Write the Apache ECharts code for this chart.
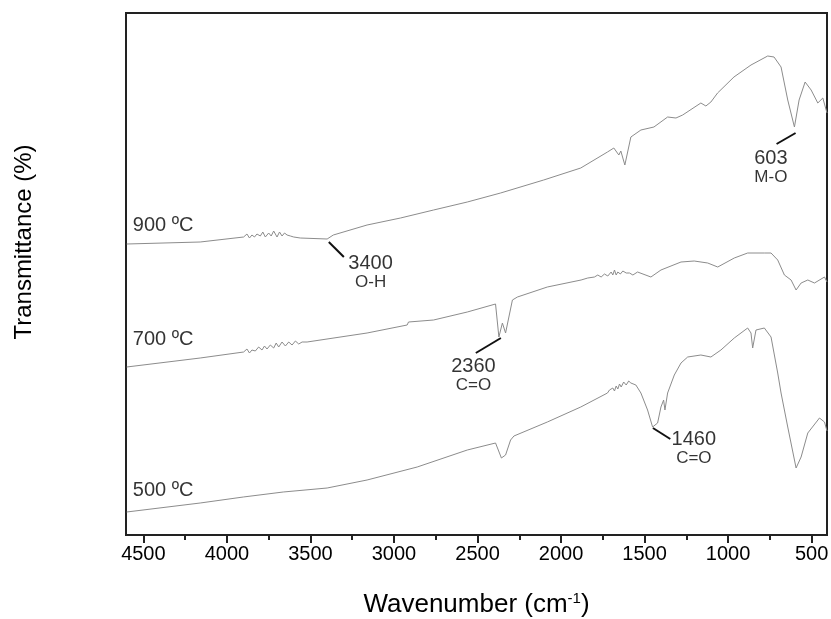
<!DOCTYPE html>
<html>
<head>
<meta charset="utf-8">
<script src="https://cdn.jsdelivr.net/npm/echarts@6/dist/echarts.min.js"></script>
<style>
  html, body { margin: 0; padding: 0; background: #fff; }
  #chart { width: 831px; height: 619px; }
</style>
</head>
<body>
<div id="chart"></div>
<script>
  /* wavenumber (cm-1) and relative transmittance for each calcination temperature */
  var wn900 = [4600, 4160, 3900, 3880, 3865, 3850, 3835, 3820, 3800, 3785, 3770, 3750, 3735, 3720, 3700, 3685, 3670, 3655, 3640, 3620, 3600, 3561, 3400, 3363, 3161, 2961, 2763, 2561, 2362, 2104, 1882, 1722, 1684, 1654, 1642, 1618, 1582, 1522, 1444, 1362, 1312, 1272, 1163, 1133, 1103, 1063, 965, 863, 763, 725, 683, 643, 603, 575, 539, 503, 463, 433, 408];
  var t900 = [291, 293, 298, 301, 297, 300, 298, 301, 299, 303, 298, 302, 299, 304, 298, 303, 299, 302, 300, 299, 298, 297, 296, 300, 310, 317, 325, 333, 342, 355, 367, 383, 387, 380, 384, 370, 398, 405, 408, 418, 417, 420, 432, 429, 433, 442, 458, 470, 479, 478, 468, 435, 408, 435, 453, 445, 432, 437, 422];

  var wn700 = [4600, 4160, 3900, 3880, 3865, 3850, 3830, 3810, 3790, 3775, 3760, 3740, 3720, 3705, 3690, 3670, 3650, 3630, 3610, 3590, 3570, 3550, 3520, 3161, 2921, 2913, 2763, 2561, 2392, 2372, 2351, 2332, 2291, 2261, 2082, 1880, 1840, 1800, 1780, 1760, 1740, 1720, 1700, 1690, 1680, 1670, 1660, 1645, 1630, 1610, 1590, 1570, 1542, 1462, 1402, 1282, 1203, 1122, 1062, 963, 883, 783, 743, 703, 663, 623, 593, 563, 523, 483, 423, 408];
  var t700 = [168, 177, 183, 186, 182, 185, 184, 188, 185, 189, 186, 190, 187, 192, 188, 193, 189, 193, 190, 194, 191, 193, 193, 202, 210, 213, 215, 223, 231, 198, 212, 202, 235, 238, 248, 255, 257, 258, 260, 258, 261, 259, 263, 260, 265, 260, 263, 261, 264, 262, 262, 260, 263, 258, 265, 273, 274, 272, 268, 277, 282, 282, 282, 275, 260, 255, 245, 252, 255, 252, 258, 253];

  var wn500 = [4600, 4160, 3902, 3663, 3400, 3161, 2861, 2561, 2392, 2357, 2332, 2302, 2282, 2082, 1882, 1722, 1710, 1700, 1690, 1680, 1670, 1660, 1650, 1640, 1625, 1610, 1595, 1582, 1552, 1522, 1482, 1452, 1422, 1402, 1386, 1378, 1362, 1322, 1282, 1242, 1163, 1103, 1043, 963, 883, 863, 853, 833, 783, 743, 703, 683, 643, 593, 563, 523, 453, 423, 408];
  var t500 = [23, 32, 38, 43, 47, 55, 68, 85, 92, 77, 80, 95, 99, 113, 128, 142, 145, 143, 147, 144, 149, 146, 151, 148, 153, 150, 154, 152, 150, 142, 125, 108, 112, 128, 135, 125, 142, 160, 172, 178, 180, 178, 185, 197, 207, 202, 187, 205, 207, 198, 162, 142, 108, 67, 78, 102, 117, 113, 104];

  /* curve names, placed at the left end */
  var curveNames = ['900 ºC', '700 ºC', '500 ºC'];
  var nameAt = [[4563, 310], [4563, 196], [4563, 45]];

  /* band assignments: peak, group, leader line start/end, text anchor */
  var bandPeak = ['3400', '2360', '603', '1460'];
  var bandGroup = ['O-H', 'C=O', 'M-O', 'C=O'];
  var bandLineFrom = [[3390, 293], [2360, 197], [596, 402], [1450, 107]];
  var bandLineTo = [[3300, 278], [2510, 182], [710, 391], [1346, 96]];
  var bandText = [[3140, 262], [2524, 159], [744, 367], [1205, 86]];

  var xTicks = [500, 1000, 1500, 2000, 2500, 3000, 3500, 4000, 4500];
  var xMinorTicks = [750, 1250, 1750, 2250, 2750, 3250, 3750, 4250];

  function pairs(xs, ys) {
    return xs.map(function (x, i) { return [x, ys[i]]; });
  }

  var font = '"Liberation Sans", Arial, sans-serif';
  var lineColor = '#8c8c8c';
  var ink = '#000';

  function spectrum(name, xs, ys) {
    return {
      name: name,
      type: 'line',
      data: pairs(xs, ys),
      showSymbol: false,
      silent: true,
      lineStyle: { color: lineColor, width: 1 },
      z: 2
    };
  }

  var chart = echarts.init(document.getElementById('chart'));
  chart.setOption({
    animation: false,
    backgroundColor: '#fff',
    textStyle: { fontFamily: font },
    grid: {
      left: 126, right: 4, top: 13, bottom: 84,
      containLabel: false, outerBoundsMode: 'none',
      show: true, borderColor: '#222', borderWidth: 2
    },
    xAxis: [
      {
        type: 'value', inverse: true, min: 408, max: 4604,
        name: '{a|Wavenumber (cm}{s|-1}{a|)}',
        nameLocation: 'middle', nameGap: 56,
        nameTextStyle: {
          rich: {
            a: { fontSize: 26, color: ink, fontFamily: font },
            s: { fontSize: 15, color: ink, fontFamily: font, verticalAlign: 'top', padding: [0, 0, 12, 0] }
          }
        },
        axisLine: { show: true, lineStyle: { color: '#222', width: 2 } },
        axisTick: { show: true, inside: false, length: 8, lineStyle: { color: '#222', width: 2 }, customValues: xTicks },
        axisLabel: {
          fontSize: 20, color: ink, margin: 9, customValues: xTicks,
          formatter: function (v) { return String(v); }
        },
        splitLine: { show: false }
      },
      {
        type: 'value', inverse: true, min: 408, max: 4604, position: 'bottom',
        axisLine: { show: false },
        axisTick: { show: true, inside: false, length: 5, lineStyle: { color: '#222', width: 2 }, customValues: xMinorTicks },
        axisLabel: { show: false, customValues: xMinorTicks },
        splitLine: { show: false }
      }
    ],
    yAxis: {
      type: 'value', min: 0, max: 522,
      axisLine: { show: true, lineStyle: { color: '#222', width: 2 } },
      axisTick: { show: false },
      axisLabel: { show: false },
      splitLine: { show: false }
    },
    graphic: [{
      type: 'text',
      x: 24, y: 242, rotation: Math.PI / 2,
      style: {
        text: 'Transmittance (%)', fontSize: 24, fontFamily: font, fill: ink,
        align: 'center', verticalAlign: 'middle'
      }
    }],
    series: [
      spectrum('900 ºC', wn900, t900),
      spectrum('700 ºC', wn700, t700),
      spectrum('500 ºC', wn500, t500),
      {
        type: 'scatter', silent: true, symbolSize: 0,
        data: nameAt.map(function (p, i) { return { value: p, name: curveNames[i] }; }),
        label: {
          show: true, position: 'right', distance: 0, formatter: '{b}',
          fontSize: 20, color: ink, fontFamily: font, textBorderWidth: 0
        }
      },
      {
        type: 'scatter', silent: true, symbolSize: 0,
        data: bandText.map(function (p, i) { return { value: p, name: bandPeak[i], group: bandGroup[i] }; }),
        label: {
          show: true, position: 'inside', textBorderWidth: 0,
          formatter: function (p) { return '{n|' + p.name + '}\n{g|' + p.data.group + '}'; },
          rich: {
            n: { fontSize: 20, color: ink, fontFamily: font, lineHeight: 19, align: 'center', textBorderWidth: 0 },
            g: { fontSize: 17, color: ink, fontFamily: font, lineHeight: 19, align: 'center', textBorderWidth: 0 }
          }
        },
        markLine: {
          silent: true, symbol: 'none', animation: false,
          lineStyle: { color: '#111', width: 2, type: 'solid' },
          label: { show: false },
          data: bandLineFrom.map(function (p, i) { return [{ coord: p }, { coord: bandLineTo[i] }]; })
        }
      }
    ]
  });
</script>
</body>
</html>
